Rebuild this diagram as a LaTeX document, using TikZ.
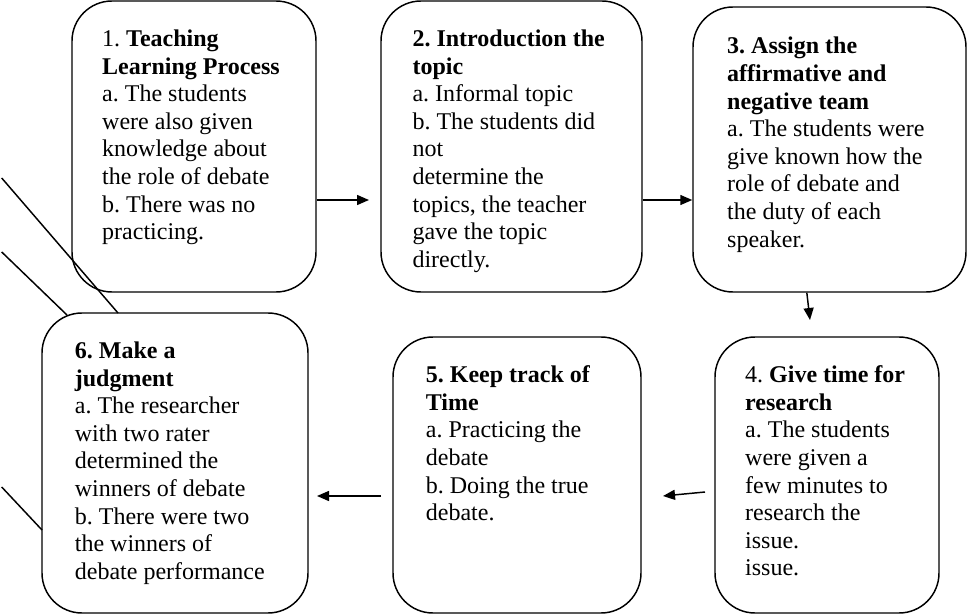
\documentclass[tikz,border=0pt]{standalone}
\usepackage{fontspec}
\setmainfont{Liberation Serif}
\usetikzlibrary{arrows.meta,positioning}
\frenchspacing

\begin{document}
\begin{tikzpicture}[x=0.75pt,y=-0.75pt,
  stepbox/.style={draw=black,line width=1.1pt,rounded corners=30pt,inner sep=0pt},
  txt/.style={font=\fontsize{18pt}{20.7pt}\selectfont,align=left,inner sep=0pt},
  flow/.style={-{Triangle[length=9pt,width=7.5pt]},line width=1.1pt},
  slash/.style={line width=1.1pt}]
  \useasboundingbox (0,0) rectangle (968,614);
  \draw[slash] (1.7,178) -- (118,313);
  \draw[slash] (1.7,252) -- (67,315);
  \draw[slash] (1.7,487) -- (42,530);
  \node[stepbox,minimum width=183pt,minimum height=218.25pt] (b1) at (194,146.5) {};
  \node[stepbox,minimum width=195.75pt,minimum height=218.25pt] (b2) at (511.5,146.5) {};
  \node[stepbox,minimum width=204.75pt,minimum height=213.75pt] (b3) at (829.5,149.5) {};
  \node[stepbox,minimum width=168pt,minimum height=207pt] (b4) at (827,475) {};
  \node[stepbox,minimum width=186pt,minimum height=207pt] (b5) at (517,475) {};
  \node[stepbox,minimum width=199.5pt,minimum height=225pt] (b6) at (175,463) {};
  \node[txt,below right=22pt and 23pt of b1.north west] (t1) {1. \textbf{Teaching}\\\textbf{Learning Process}\\a. The students\\were also given\\knowledge about\\the role of debate\\b. There was no\\practicing.};
  \node[txt,below right=22pt and 24pt of b2.north west] (t2) {\textbf{2. Introduction the}\\\textbf{topic}\\a. Informal topic\\b. The students did\\not\\determine the\\topics, the teacher\\gave the topic\\directly.};
  \node[txt,below right=23pt and 26pt of b3.north west] (t3) {\textbf{3. Assign the}\\\textbf{affirmative and}\\\textbf{negative team}\\a. The students were\\give known how the\\role of debate and\\the duty of each\\speaker.};
  \node[txt,below right=22pt and 23pt of b4.north west] (t4) {4. \textbf{Give time for}\\\textbf{research}\\a. The students\\were given a\\few minutes to\\research the\\issue.\\issue.};
  \node[txt,below right=22pt and 25pt of b5.north west] (t5) {\textbf{5. Keep track of}\\\textbf{Time}\\a. Practicing the\\debate\\b. Doing the true\\debate.};
  \node[txt,below right=22pt and 25pt of b6.north west] (t6) {\textbf{6. Make a}\\\textbf{judgment}\\a. The researcher\\with two rater\\determined the\\winners of debate\\b. There were two\\the winners of\\debate performance};
  \coordinate (a12) at (369,200);
  \coordinate (row1) at (0,200);
  \coordinate (a34) at (810,320);
  \coordinate (s45) at (705,492);
  \coordinate (e45) at (663,496);
  \coordinate (s56) at (381,496);
  \coordinate (e56) at (317,496);
  \draw[flow] (b1.east |- a12) -- (a12);
  \draw[flow] (b2.east |- row1) -- (b3.west |- row1);
  \draw[flow] ([xshift=-17pt]b3.south) -- (a34);
  \draw[flow] (s45) -- (e45);
  \draw[flow] (s56) -- (e56);
\end{tikzpicture}
\end{document}
